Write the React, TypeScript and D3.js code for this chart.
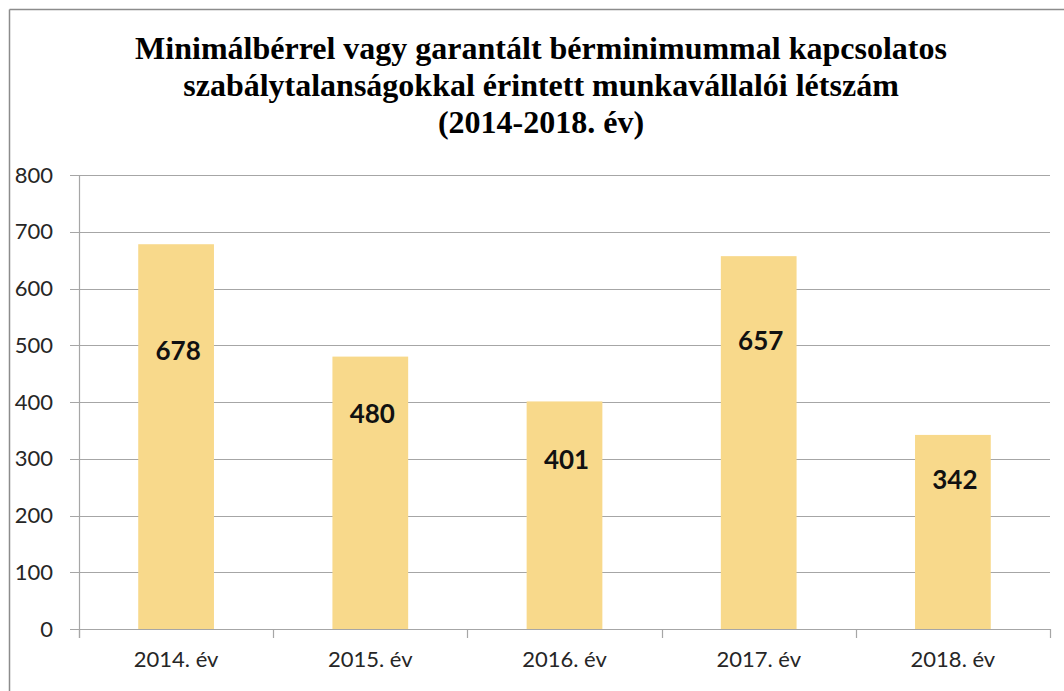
import * as d3 from "d3";
import { useEffect, useRef } from "react";

const titleLines = [
  "Minimálbérrel vagy garantált bérminimummal kapcsolatos",
  "szabálytalanságokkal érintett munkavállalói létszám",
  "(2014-2018. év)",
];
const categories = ["2014. év", "2015. év", "2016. év", "2017. év", "2018. év"];
const values = [678, 480, 401, 657, 342];
// where each data label sits, in axis units (placed by hand in the source chart)
const labelAt = [490, 379, 298, 507, 262];
const yTicks = [0, 100, 200, 300, 400, 500, 600, 700, 800];

const W = 1064;
const H = 691;
const margin = { top: 175, right: 14, bottom: 62, left: 79 };

const App = () => {
  const ref = useRef(null);

  useEffect(() => {
    const svg = d3.select(ref.current);
    svg.selectAll("*").remove();

    const x = d3
      .scaleBand()
      .domain(categories)
      .range([margin.left, W - margin.right])
      .paddingInner(0)
      .paddingOuter(0);
    const y = d3
      .scaleLinear()
      .domain([0, 800])
      .range([H - margin.bottom, margin.top]);

    // frame
    svg.append("line")
      .attr("x1", 9.5).attr("x2", W).attr("y1", 9.5).attr("y2", 9.5)
      .attr("stroke", "#8c8c8c").attr("stroke-width", 1.5);
    svg.append("line")
      .attr("x1", 9.5).attr("x2", 9.5).attr("y1", 9.5).attr("y2", H)
      .attr("stroke", "#8c8c8c").attr("stroke-width", 1.5);

    // title
    svg.append("g")
      .selectAll("text")
      .data(titleLines)
      .enter()
      .append("text")
      .attr("x", 541)
      .attr("y", (d, i) => 59 + i * 37)
      .attr("text-anchor", "middle")
      .style("font-family", "'Liberation Serif', 'Times New Roman', serif")
      .style("font-weight", "bold")
      .style("font-size", "32px")
      .attr("fill", "#000")
      .text(d => d);

    // gridlines
    svg.append("g")
      .selectAll("line")
      .data(yTicks)
      .enter()
      .append("line")
      .attr("x1", margin.left - 9)
      .attr("x2", W - margin.right)
      .attr("y1", d => Math.round(y(d)) + 0.5)
      .attr("y2", d => Math.round(y(d)) + 0.5)
      .attr("stroke", "#a6a6a6")
      .attr("stroke-width", 1.2);

    // y axis line
    svg.append("line")
      .attr("x1", margin.left + 0.5).attr("x2", margin.left + 0.5)
      .attr("y1", y(800)).attr("y2", y(0) + 9)
      .attr("stroke", "#a6a6a6").attr("stroke-width", 1.2);

    // y tick labels
    svg.append("g")
      .selectAll("text")
      .data(yTicks)
      .enter()
      .append("text")
      .attr("x", 53)
      .attr("y", d => y(d))
      .attr("dy", "0.35em")
      .attr("text-anchor", "end")
      .style("font-family", "Lato, 'Liberation Sans', sans-serif")
      .style("font-size", "22px")
      .attr("fill", "#262626")
      .text(d => d);

    // x category ticks
    const bounds = categories.map(c => x(c)).concat([x.range()[1]]);
    svg.append("g")
      .selectAll("line")
      .data(bounds)
      .enter()
      .append("line")
      .attr("x1", d => Math.round(d) + 0.5)
      .attr("x2", d => Math.round(d) + 0.5)
      .attr("y1", y(0))
      .attr("y2", y(0) + 9)
      .attr("stroke", "#a6a6a6")
      .attr("stroke-width", 1.2);

    // x labels
    svg.append("g")
      .selectAll("text")
      .data(categories)
      .enter()
      .append("text")
      .attr("x", d => x(d) + x.bandwidth() / 2)
      .attr("y", y(0) + 38)
      .attr("text-anchor", "middle")
      .style("font-family", "Lato, 'Liberation Sans', sans-serif")
      .style("font-size", "22px")
      .attr("fill", "#262626")
      .text(d => d);

    // bars
    const barW = x.bandwidth() * 0.39;
    svg.append("g")
      .selectAll("rect")
      .data(values)
      .enter()
      .append("rect")
      .attr("x", (d, i) => x(categories[i]) + (x.bandwidth() - barW) / 2)
      .attr("y", d => y(d))
      .attr("width", barW)
      .attr("height", d => y(0) - y(d))
      .attr("fill", "#f8d98b");

    // data labels
    svg.append("g")
      .selectAll("text")
      .data(values)
      .enter()
      .append("text")
      .attr("x", (d, i) => x(categories[i]) + x.bandwidth() / 2 + 2)
      .attr("y", (d, i) => y(labelAt[i]))
      .attr("dy", "0.35em")
      .attr("text-anchor", "middle")
      .style("font-family", "Lato, 'Liberation Sans', sans-serif")
      .style("font-weight", "bold")
      .style("font-size", "26px")
      .attr("fill", "#111")
      .text(d => d);
  }, []);

  return (
    <svg
      ref={ref}
      width={W}
      height={H}
      style={{ position: "absolute", left: 0, top: 0, background: "#fff" }}
    ></svg>
  );
};

export default App;
